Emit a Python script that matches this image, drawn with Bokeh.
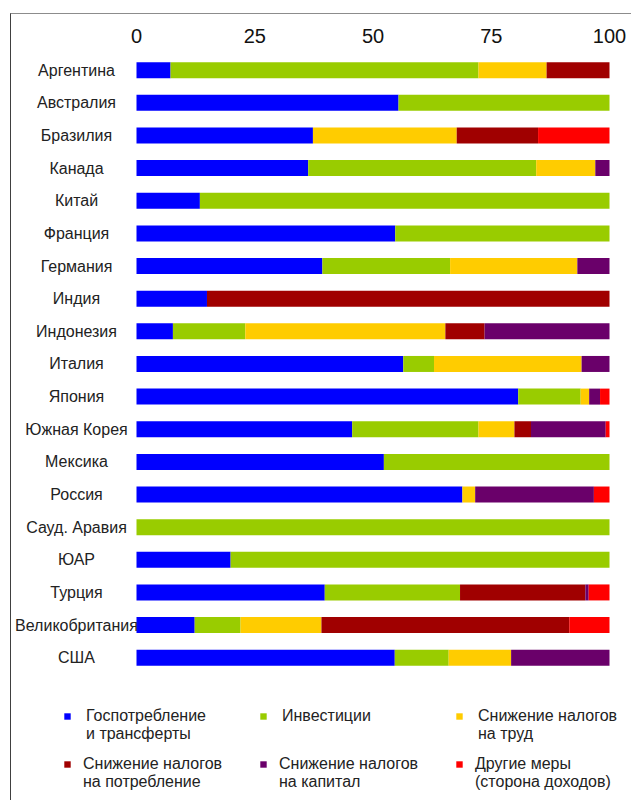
from bokeh.plotting import figure
from bokeh.models import (ColumnDataSource, Range1d, FixedTicker, Legend, LegendItem)
from bokeh.core.properties import value
from bokeh.embed import file_html
from bokeh.resources import INLINE

countries = ["Аргентина", "Австралия", "Бразилия", "Канада", "Китай", "Франция",
             "Германия", "Индия", "Индонезия", "Италия", "Япония", "Южная Корея",
             "Мексика", "Россия", "Сауд. Аравия", "ЮАР", "Турция", "Великобритания", "США"]

gov_spending = [7.2, 55.4, 37.3, 36.3, 13.4, 54.7, 39.3, 14.9, 7.7, 56.4, 80.7, 45.6, 52.3, 68.9, 0.0, 19.9, 39.8, 12.3, 54.6]
investment   = [65.1, 44.6, 0.0, 48.2, 86.6, 45.3, 27.0, 0.0, 15.3, 6.5, 13.2, 26.7, 47.7, 0.0, 100.0, 80.1, 28.6, 9.7, 11.4]
labor_tax    = [14.4, 0.0, 30.4, 12.5, 0.0, 0.0, 26.9, 0.0, 42.3, 31.2, 1.8, 7.6, 0.0, 2.7, 0.0, 0.0, 0.0, 17.1, 13.2]
consump_tax  = [13.3, 0.0, 17.2, 0.0, 0.0, 0.0, 0.0, 85.1, 8.3, 0.0, 0.0, 3.5, 0.0, 0.0, 0.0, 0.0, 26.5, 52.4, 0.0]
capital_tax  = [0.0, 0.0, 0.0, 3.0, 0.0, 0.0, 6.8, 0.0, 26.4, 5.9, 2.3, 15.8, 0.0, 25.1, 0.0, 0.0, 0.7, 0.0, 20.8]
other        = [0.0, 0.0, 15.1, 0.0, 0.0, 0.0, 0.0, 0.0, 0.0, 0.0, 2.0, 0.8, 0.0, 3.3, 0.0, 0.0, 4.4, 8.5, 0.0]

# legend labels: first line and second line of each series name
series_line1 = ["Госпотребление", "Инвестиции", "Снижение налогов",
                "Снижение налогов", "Снижение налогов", "Другие меры"]
series_line2 = ["и трансферты", " ", "на труд",
                "на потребление", "на капитал", "(сторона доходов)"]
tick_values = [0, 25, 50, 75, 100]

colors = ["#0000FF", "#99CC00", "#FFCC00", "#A00000", "#6A006A", "#FF0000"]
keys = ["gov", "inv", "lab", "con", "cap", "oth"]

src = ColumnDataSource(dict(
    idx=list(range(len(countries))), country=countries,
    gov=gov_spending, inv=investment, lab=labor_tax, con=consump_tax,
    cap=capital_tax, oth=other))

# layout (canvas px)
W, H = 621, 787
x0_px, x100_px = 125.0, 598.0
k = (x100_px - x0_px) / 100.0
frame_top = 36
row0_px, row_pitch = 69.7 - 14 - frame_top, 32.64
frame_h = H - frame_top

p = figure(width=W, height=H, output_backend="svg", toolbar_location=None,
           x_axis_location="above", y_axis_location=None,
           x_range=Range1d(-x0_px / k, 100 + (W - x100_px) / k),
           y_range=Range1d((frame_h - row0_px) / row_pitch, -row0_px / row_pitch),
           min_border_left=0, min_border_right=0, min_border_bottom=0,
           min_border_top=frame_top, outline_line_color=None,
           margin=(13, 0, 0, 10),
           styles={"border-top": "1px solid #8c8c8c", "border-left": "1px solid #404040"})
p.xgrid.visible = False
p.ygrid.visible = False

ax = p.xaxis[0]
ax.ticker = FixedTicker(ticks=tick_values)
ax.axis_line_color = None
ax.major_tick_line_color = None
ax.minor_tick_line_color = None
ax.major_label_standoff = 2
ax.major_label_text_font = "Liberation Sans"
ax.major_label_text_font_size = "20px"
ax.major_label_text_color = "#111111"

rs = p.hbar_stack(keys, y="idx", height=16 / row_pitch, color=colors, source=src,
                  line_color=None)

p.text(x=-(x0_px - 65) / k, y="idx", text="country", source=src,
       text_align="center", text_baseline="middle",
       text_font=value("Liberation Sans"), text_font_size="16px", text_color="#222222")

# invisible renderer used for the second line of two-line legend entries
blank = p.scatter(x=[], y=[], marker="square", fill_alpha=0, line_alpha=0)


def make_legend(idxs, loc, standoff):
    items = []
    for i in idxs:  # column-major order: first line, then second line
        items.append(LegendItem(label=series_line1[i], renderers=[rs[i]]))
        items.append(LegendItem(label=series_line2[i], renderers=[blank]))
    return Legend(items=items, ncols=3, location=loc, padding=0, margin=0,
                  border_line_color=None, background_fill_alpha=0,
                  glyph_width=8, glyph_height=8, label_standoff=standoff, spacing=0,
                  label_width=196 - 8 - standoff, label_height=17,
                  label_text_font="Liberation Sans", label_text_font_size="16px",
                  label_text_color="#222222")


p.add_layout(make_legend([0, 1, 2], (52, 58), 15), "center")
p.add_layout(make_legend([3, 4, 5], (52, 10), 12), "center")

open("out.html", "w").write(file_html(p, INLINE))
